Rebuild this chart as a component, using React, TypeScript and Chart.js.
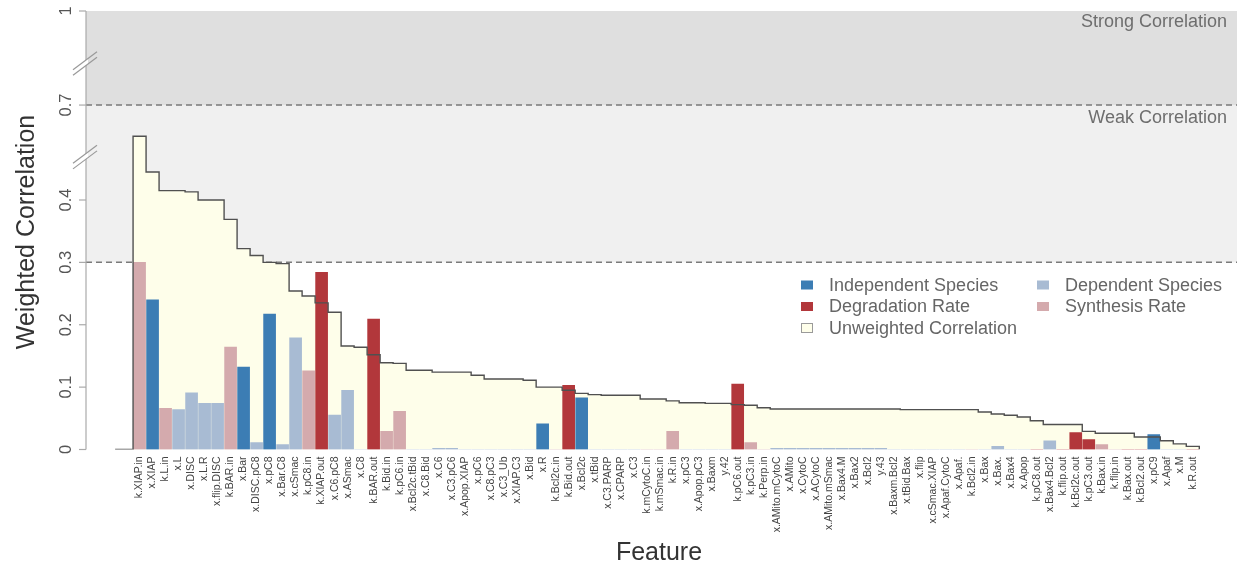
import { useEffect, useRef } from "react";
import { Chart, registerables } from "chart.js";

Chart.register(...registerables);

// Features, ordered by unweighted correlation
const features = [
  "k.XIAP.in", "x.XIAP", "k.L.in", "x.L", "x.DISC", "x.L.R", "x.flip.DISC", "k.BAR.in", "x.Bar", "x.DISC.pC8",
  "x.pC8", "x.Bar.C8", "x.cSmac", "k.pC8.in", "k.XIAP.out", "x.C6.pC8", "x.ASmac", "x.C8", "k.BAR.out", "k.Bid.in",
  "k.pC6.in", "x.Bcl2c.tBid", "x.C8.Bid", "x.C6", "x.C3.pC6", "x.Apop.XIAP", "x.pC6", "x.C8.pC3", "x.C3_Ub", "x.XIAP.C3",
  "x.Bid", "x.R", "k.Bcl2c.in", "k.Bid.out", "x.Bcl2c", "x.tBid", "x.C3.PARP", "x.CPARP", "x.C3", "k.mCytoC.in",
  "k.mSmac.in", "k.R.in", "x.pC3", "x.Apop.pC3", "x.Baxm", "y.42", "k.pC6.out", "k.pC3.in", "k.Perp.in", "x.AMito.mCytoC",
  "x.AMito", "x.CytoC", "x.ACytoC", "x.AMito.mSmac", "x.Bax4.M", "x.Bax2", "x.Bcl2", "y.43", "x.Baxm.Bcl2", "x.tBid.Bax",
  "x.flip", "x.cSmac.XIAP", "x.Apaf.CytoC", "x.Apaf.", "k.Bcl2.in", "x.Bax", "x.Bax.", "x.Bax4", "x.Apop", "k.pC8.out",
  "x.Bax4.Bcl2", "k.flip.out", "k.Bcl2c.out", "k.pC3.out", "k.Bax.in", "k.flip.in", "k.Bax.out", "k.Bcl2.out", "x.pC9", "x.Apaf",
  "x.M", "k.R.out",
];

// Weighted correlation of each feature
const weighted = [
  0.300, 0.240, 0.066, 0.064, 0.091, 0.074, 0.074, 0.164, 0.132, 0.011,
  0.217, 0.008, 0.179, 0.126, 0.284, 0.055, 0.095, 0, 0.209, 0.029,
  0.061, 0, 0, 0.002, 0.002, 0, 0, 0, 0, 0,
  0, 0.041, 0, 0.103, 0.083, 0, 0, 0, 0, 0,
  0, 0.029, 0, 0, 0, 0, 0.105, 0.011, 0, 0.002,
  0.002, 0.002, 0.002, 0.002, 0.002, 0.002, 0.002, 0.002, 0, 0,
  0, 0, 0, 0, 0, 0, 0.005, 0, 0, 0,
  0.014, 0, 0.027, 0.016, 0.008, 0, 0, 0, 0.024, 0,
  0, 0,
];

// Unweighted correlation of each feature
const unweighted = [
  0.560, 0.445, 0.415, 0.415, 0.413, 0.400, 0.400, 0.369, 0.322, 0.311,
  0.300, 0.298, 0.254, 0.246, 0.235, 0.220, 0.166, 0.164, 0.152, 0.139,
  0.138, 0.127, 0.127, 0.124, 0.124, 0.124, 0.119, 0.113, 0.113, 0.113,
  0.111, 0.100, 0.100, 0.095, 0.090, 0.088, 0.087, 0.087, 0.087, 0.081,
  0.081, 0.078, 0.075, 0.075, 0.074, 0.074, 0.072, 0.071, 0.067, 0.065,
  0.065, 0.065, 0.065, 0.065, 0.065, 0.065, 0.065, 0.065, 0.065, 0.064,
  0.064, 0.064, 0.064, 0.064, 0.064, 0.060, 0.057, 0.055, 0.052, 0.046,
  0.040, 0.040, 0.040, 0.029, 0.026, 0.026, 0.026, 0.020, 0.020, 0.014,
  0.009, 0.005,
];

// Species coloured as independent; other x.* features are dependent
const independentSpecies = ["x.XIAP", "x.Bar", "x.pC8", "x.R", "x.Bcl2c", "x.pC9"];

const yTicks = [0, 0.1, 0.2, 0.3, 0.4, 0.7, 1];
const weakLevel = 0.3;
const strongLevel = 0.7;

const legendItems = [
  { label: "Independent Species", kind: "ind" },
  { label: "Dependent Species", kind: "dep" },
  { label: "Degradation Rate", kind: "deg" },
  { label: "Synthesis Rate", kind: "syn" },
  { label: "Unweighted Correlation", kind: "unw" },
];

const COLORS: Record<string, string> = {
  ind: "#3C7DB4",
  dep: "#A8BBD3",
  deg: "#B2373B",
  syn: "#D4AAAD",
  unw: "#FEFEEA",
};

const FONT = "'Liberation Sans', Arial, Helvetica, sans-serif";

function kindOf(name: string): string {
  if (name.startsWith("k.")) return name.endsWith(".out") ? "deg" : "syn";
  return independentSpecies.includes(name) ? "ind" : "dep";
}

// Broken y axis: 0-0.47 linear, 0.47-0.7 and 0.7-1 compressed
function toAxis(v: number): number {
  if (v <= 0.47) return v;
  if (v <= 0.7) return 0.47 + (v - 0.47) * (0.0822 / 0.23);
  return 0.5522 + (v - 0.7) * (0.1508 / 0.3);
}

function stepPoints() {
  const pts: { x: number; y: number }[] = [{ x: -1.88, y: 0 }, { x: -0.5, y: 0 }];
  unweighted.forEach((v, i) => {
    pts.push({ x: i - 0.5, y: toAxis(v) });
    pts.push({ x: i + 0.5, y: toAxis(v) });
  });
  pts.push({ x: unweighted.length - 0.5, y: 0 });
  return pts;
}

const decorations = {
  id: "decorations",
  beforeDatasetsDraw(chart: any) {
    const { ctx, chartArea } = chart;
    const y = chart.scales.y;
    const yStrong = y.getPixelForValue(toAxis(strongLevel));
    const yWeak = y.getPixelForValue(toAxis(weakLevel));
    const yTop = y.getPixelForValue(toAxis(1));
    ctx.save();
    ctx.fillStyle = "#DFDFDF";
    ctx.fillRect(chartArea.left, yTop, chartArea.right - chartArea.left, yStrong - yTop);
    ctx.fillStyle = "#F0F0F0";
    ctx.fillRect(chartArea.left, yStrong, chartArea.right - chartArea.left, yWeak - yStrong);

    ctx.strokeStyle = "#7A7A7A";
    ctx.lineWidth = 1.5;
    ctx.setLineDash([6, 4]);
    [yStrong, yWeak].forEach((py) => {
      ctx.beginPath();
      ctx.moveTo(chartArea.left, py);
      ctx.lineTo(chartArea.right, py);
      ctx.stroke();
    });
    ctx.setLineDash([]);

    ctx.fillStyle = "#6E6E6E";
    ctx.font = `18px ${FONT}`;
    ctx.textAlign = "right";
    ctx.textBaseline = "middle";
    ctx.fillText("Strong Correlation", 1227, 22);
    ctx.fillText("Weak Correlation", 1227, 118);
    ctx.restore();
  },
  afterDraw(chart: any) {
    const { ctx, chartArea } = chart;
    const y = chart.scales.y;
    const ax = chartArea.left;
    ctx.save();

    // axis line and ticks
    ctx.strokeStyle = "#AAAAAA";
    ctx.lineWidth = 1.2;
    ctx.beginPath();
    ctx.moveTo(ax, y.getPixelForValue(toAxis(1)));
    ctx.lineTo(ax, y.getPixelForValue(0));
    ctx.stroke();
    yTicks.forEach((t) => {
      const py = y.getPixelForValue(toAxis(t));
      ctx.beginPath();
      ctx.moveTo(ax - 7, py);
      ctx.lineTo(ax, py);
      ctx.stroke();
    });

    // axis break marks
    [0.47, 0.835].forEach((b) => {
      const cy = y.getPixelForValue(toAxis(b));
      const off = 2.8;
      ctx.fillStyle = "#FFFFFF";
      ctx.beginPath();
      ctx.moveTo(ax - 13, cy + 9.75 - off);
      ctx.lineTo(ax + 2, cy - 1.5 - off);
      ctx.lineTo(ax + 2, cy - 1.5 + off);
      ctx.lineTo(ax - 13, cy + 9.75 + off);
      ctx.closePath();
      ctx.fill();
      ctx.strokeStyle = "#999999";
      ctx.lineWidth = 1.2;
      [-off, off].forEach((o) => {
        ctx.beginPath();
        ctx.moveTo(ax - 13, cy + 9.75 + o);
        ctx.lineTo(ax + 11, cy - 8.25 + o);
        ctx.stroke();
      });
    });

    // rotated tick labels
    ctx.fillStyle = "#555555";
    ctx.font = `16.5px ${FONT}`;
    ctx.textAlign = "center";
    ctx.textBaseline = "middle";
    yTicks.forEach((t) => {
      const py = y.getPixelForValue(toAxis(t));
      ctx.save();
      ctx.translate(66, py);
      ctx.rotate(-Math.PI / 2);
      ctx.fillText(String(t), 0, 0);
      ctx.restore();
    });

    // axis titles
    ctx.fillStyle = "#333333";
    ctx.font = `25px ${FONT}`;
    ctx.save();
    ctx.translate(27, 232);
    ctx.rotate(-Math.PI / 2);
    ctx.fillText("Weighted Correlation", 0, 0);
    ctx.restore();
    ctx.fillText("Feature", 659, 553);

    // legend
    const cols = [
      { sq: 801, tx: 829 },
      { sq: 1037, tx: 1065 },
    ];
    const rows = [285, 306.5, 328];
    ctx.font = `18px ${FONT}`;
    ctx.textAlign = "left";
    legendItems.forEach((item, k) => {
      const c = cols[k % 2];
      const r = rows[Math.floor(k / 2)];
      ctx.fillStyle = COLORS[item.kind];
      ctx.fillRect(c.sq, r - 4.5, 12, 9);
      if (item.kind === "unw") {
        ctx.strokeStyle = "#9A9A9A";
        ctx.lineWidth = 1;
        ctx.strokeRect(c.sq + 0.5, r - 4.5, 11, 9);
      }
      ctx.fillStyle = "#666666";
      ctx.fillText(item.label, c.tx, r + 1);
    });
    ctx.restore();
  },
};

export default function App() {
  const canvasRef = useRef<HTMLCanvasElement | null>(null);

  useEffect(() => {
    const canvas = canvasRef.current;
    if (!canvas) return;
    const steps = stepPoints();
    const chart = new Chart(canvas, {
      type: "bar",
      data: {
        datasets: [
          {
            // outline of the unweighted correlation, drawn over the bars
            type: "line",
            label: "Unweighted Correlation",
            data: steps,
            borderColor: "#505050",
            borderWidth: 1.4,
            fill: false,
            pointRadius: 0,
            tension: 0,
            order: 0,
          },
          {
            type: "bar",
            label: "Weighted Correlation",
            data: weighted.map((v, i) => ({ x: i, y: toAxis(v) })),
            backgroundColor: features.map((f) => COLORS[kindOf(f)]),
            barThickness: 12,
            borderWidth: 0,
            order: 1,
          },
          {
            // filled area of the unweighted correlation, beneath the bars
            type: "line",
            label: "Unweighted Correlation area",
            data: steps,
            borderWidth: 0,
            borderColor: "rgba(0,0,0,0)",
            backgroundColor: COLORS.unw,
            fill: "origin",
            pointRadius: 0,
            tension: 0,
            order: 2,
          },
        ] as any,
      },
      options: {
        animation: false,
        responsive: false,
        maintainAspectRatio: false,
        layout: { padding: { top: 11, right: 2, left: 86, bottom: 0 } },
        plugins: { legend: { display: false }, tooltip: { enabled: false } },
        scales: {
          x: {
            type: "linear",
            min: -4.12,
            max: 84.4,
            offset: false,
            grid: { display: false, drawTicks: false },
            border: { display: false },
            afterBuildTicks: (s: any) => {
              s.ticks = features.map((_, i) => ({ value: i }));
            },
            afterFit: (s: any) => {
              s.height = 123.5;
            },
            ticks: {
              autoSkip: false,
              minRotation: 90,
              maxRotation: 90,
              padding: 7,
              color: "#444444",
              font: { size: 10.5, family: FONT },
              callback: (v: any) => features[v] ?? "",
            },
          },
          y: {
            display: false,
            min: 0,
            max: toAxis(1),
          },
        },
      },
      plugins: [decorations],
    });
    return () => chart.destroy();
  }, []);

  return (
    <div style={{ position: "absolute", left: 0, top: 0, width: 1239, height: 573, background: "#FFFFFF" }}>
      <canvas ref={canvasRef} width={1239} height={573} />
    </div>
  );
}
